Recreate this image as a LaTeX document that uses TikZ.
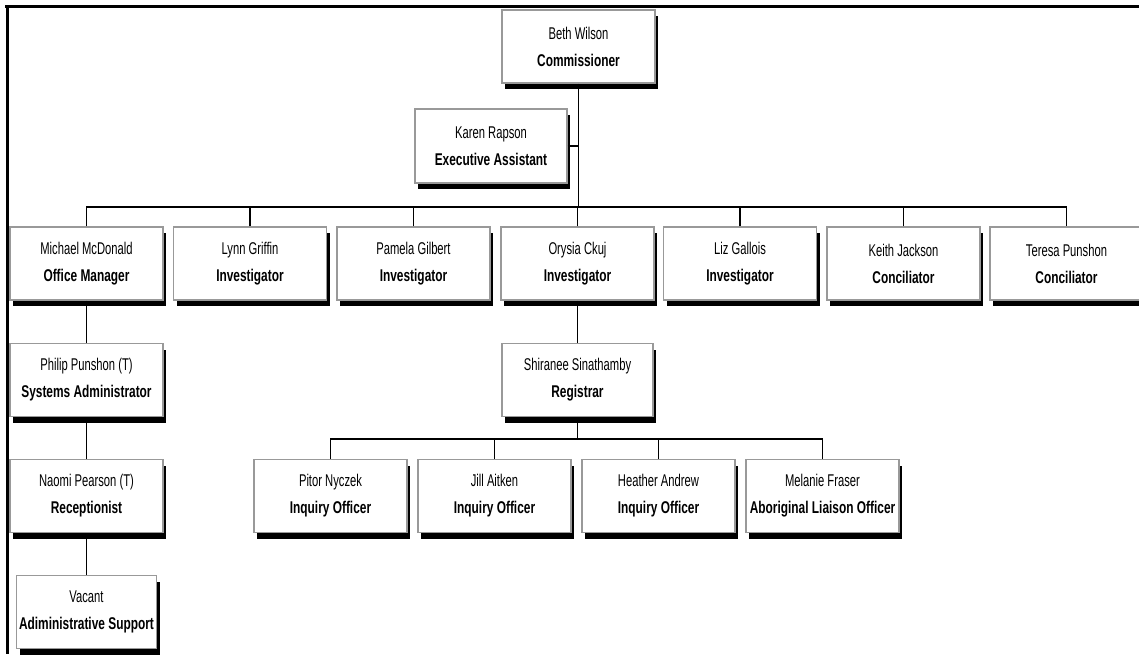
\documentclass[tikz,border=0pt]{standalone}
\usepackage{fontspec}
\usetikzlibrary{shadows}
\newfontfamily\namefont[FakeStretch=0.66]{Liberation Sans}
\newfontfamily\titlefont[FakeStretch=0.70]{Liberation Sans}
\newcommand{\person}[2]{{\namefont #1}\\{\titlefont\bfseries #2}}
\tikzset{
  box/.style={draw=black!40, line width=1.3pt, fill=white, inner sep=0pt,
    minimum width=153pt, minimum height=73pt, align=center,
    font=\fontsize{17}{27}\selectfont,
    drop shadow={shadow xshift=3pt, shadow yshift=-6pt, opacity=1, fill=black}},
  conn/.style={draw=black, line width=1.4pt},
  frame/.style={draw=black, line width=3pt}
}
\begin{document}
\begin{tikzpicture}[x=1pt,y=-1pt]
\useasboundingbox (0,0) rectangle (1139,654);
\draw[frame] (5,6) -- (1139,6);
\draw[frame] (7,5) -- (7,654);
% level 1
\node[box] (beth) at (578.5,46.5) {\person{Beth Wilson}{Commissioner}};
\node[box, minimum width=152pt, minimum height=74pt] (karen) at (491,146) {\person{Karen Rapson}{Executive Assistant}};
% level 2
\node[box] (michael) at (86.5,263.5) {\person{Michael McDonald}{Office Manager}};
\node[box] (lynn) at (250,263.5) {\person{Lynn Griffin}{Investigator}};
\node[box] (pamela) at (413.5,263.5) {\person{Pamela Gilbert}{Investigator}};
\node[box] (orysia) at (577.5,263.5) {\person{Orysia Ckuj}{Investigator}};
\node[box] (liz) at (740,263.5) {\person{Liz Gallois}{Investigator}};
\node[box] (keith) at (903.5,263.5) {\person{Keith Jackson}{Conciliator}};
\node[box] (teresa) at (1066.5,263.5) {\person{Teresa Punshon}{Conciliator}};
% level 3
\node[box] (philip) at (86.5,380) {\person{Philip Punshon (T)}{Systems Administrator}};
\node[box, minimum width=151pt] (shiranee) at (577.5,380) {\person{Shiranee Sinathamby}{Registrar}};
% level 4
\node[box] (naomi) at (86.5,496) {\person{Naomi Pearson (T)}{Receptionist}};
\node[box] (pitor) at (330.5,496) {\person{Pitor Nyczek}{Inquiry Officer}};
\node[box] (jill) at (494.5,496) {\person{Jill Aitken}{Inquiry Officer}};
\node[box] (heather) at (658.5,496) {\person{Heather Andrew}{Inquiry Officer}};
\node[box] (melanie) at (822.5,496) {\person{Melanie Fraser}{Aboriginal Liaison Officer}};
% level 5
\node[box, minimum width=140pt] (vacant) at (86.5,612) {\person{Vacant}{Adiministrative Support}};
% buses
\coordinate (busA) at (0,207);
\coordinate (busB) at (0,439);
% connectors
\draw[conn] (beth.south) -- (beth.south |- busA);
\draw[conn] (karen.east) -- (karen.east -| beth.south);
\draw[conn] (michael.north) -- (michael.north |- busA) -- (teresa.north |- busA) -- (teresa.north);
\foreach \n in {lynn,pamela,orysia,liz,keith}
  \draw[conn] (\n.north) -- (\n.north |- busA);
\draw[conn] (michael.south) -- (philip.north);
\draw[conn] (philip.south) -- (naomi.north);
\draw[conn] (naomi.south) -- (vacant.north);
\draw[conn] (orysia.south) -- (shiranee.north);
\draw[conn] (shiranee.south) -- (shiranee.south |- busB);
\draw[conn] (pitor.north) -- (pitor.north |- busB) -- (melanie.north |- busB) -- (melanie.north);
\foreach \n in {jill,heather}
  \draw[conn] (\n.north) -- (\n.north |- busB);
\end{tikzpicture}
\end{document}
